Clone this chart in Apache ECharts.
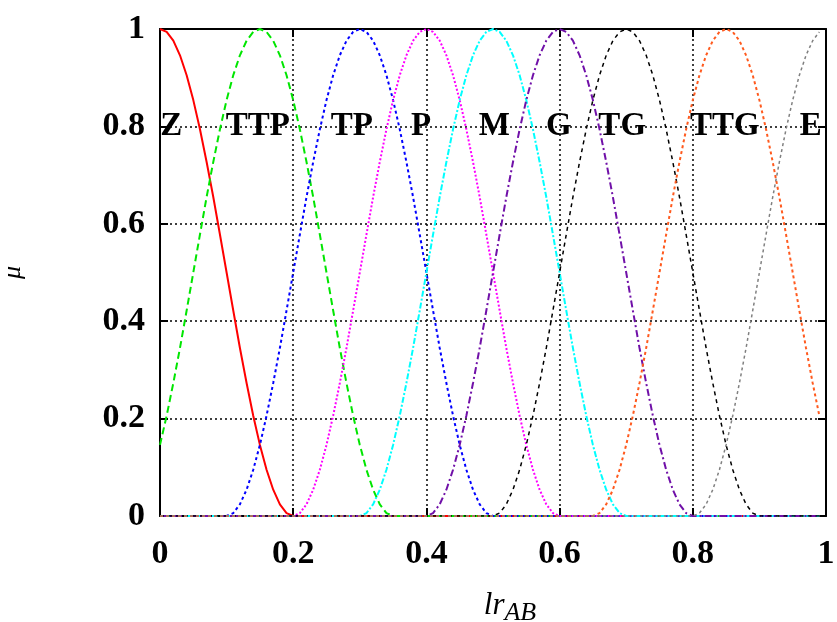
<!DOCTYPE html>
<html>
<head>
<meta charset="utf-8">
<script src="https://cdn.jsdelivr.net/npm/echarts@6/dist/echarts.min.js"></script>
<style>
  html, body { margin: 0; padding: 0; background: #fff; }
  #chart { width: 837px; height: 622px; }
</style>
</head>
<body>
<div id="chart"></div>
<script>
// Membership functions of the linguistic terms over lr_AB, sampled every 0.01.
const step = 0.01;
const lastX = 0.99;

const terms = ['Z', 'TTP', 'TP', 'P', 'M', 'G', 'TG', 'TTG', 'E'];
// x where each sampled segment begins (the curve is 0 outside its segment)
const segmentStart = [0, 0, 0.10, 0.20, 0.30, 0.40, 0.50, 0.65, 0.80];

const muZ   = [1, .994, .976, .946, .905, .854, .794, .727, .655, .578, .5, .422, .345, .273, .206, .146, .095, .054, .024, .006, 0];
const muTTP = [.146, .206, .273, .345, .422, .5, .578, .655, .727, .794, .854, .905, .946, .976, .994, 1, .994, .976, .946, .905, .854, .794, .727, .655, .578, .5, .422, .345, .273, .206, .146, .095, .054, .024, .006, 0];
const muTP  = [0, .006, .024, .054, .095, .146, .206, .273, .345, .422, .5, .578, .655, .727, .794, .854, .905, .946, .976, .994, 1, .994, .976, .946, .905, .854, .794, .727, .655, .578, .5, .422, .345, .273, .206, .146, .095, .054, .024, .006, 0];
const muP   = [0, .006, .024, .054, .095, .146, .206, .273, .345, .422, .5, .578, .655, .727, .794, .854, .905, .946, .976, .994, 1, .994, .976, .946, .905, .854, .794, .727, .655, .578, .5, .422, .345, .273, .206, .146, .095, .054, .024, .006, 0];
const muM   = [0, .006, .024, .054, .095, .146, .206, .273, .345, .422, .5, .578, .655, .727, .794, .854, .905, .946, .976, .994, 1, .994, .976, .946, .905, .854, .794, .727, .655, .578, .5, .422, .345, .273, .206, .146, .095, .054, .024, .006, 0];
const muG   = [0, .006, .024, .054, .095, .146, .206, .273, .345, .422, .5, .578, .655, .727, .794, .854, .905, .946, .976, .994, 1, .994, .976, .946, .905, .854, .794, .727, .655, .578, .5, .422, .345, .273, .206, .146, .095, .054, .024, .006, 0];
const muTG  = [0, .006, .024, .054, .095, .146, .206, .273, .345, .422, .5, .578, .655, .727, .794, .854, .905, .946, .976, .994, 1, .994, .976, .946, .905, .854, .794, .727, .655, .578, .5, .422, .345, .273, .206, .146, .095, .054, .024, .006, 0];
const muTTG = [0, .006, .024, .054, .095, .146, .206, .273, .345, .422, .5, .578, .655, .727, .794, .854, .905, .946, .976, .994, 1, .994, .976, .946, .905, .854, .794, .727, .655, .578, .5, .422, .345, .273, .206];
const muE   = [0, .006, .024, .054, .095, .146, .206, .273, .345, .422, .5, .578, .655, .727, .794, .854, .905, .946, .976, .994];

const memberships = [muZ, muTTP, muTP, muP, muM, muG, muTG, muTTG, muE];

// where each term's name is written, at mu = 0.8
const termLabelX = [0.017, 0.147, 0.288, 0.392, 0.502, 0.599, 0.694, 0.848, 0.977];
const termLabelY = 0.8;

const colors = ['#ff0000', '#00e600', '#0000ff', '#ff00ff', '#00ffff', '#7010a8', '#000000', '#ff5a1e', '#808080'];
const dashes = ['solid', [7, 4], [3, 3], [2, 2], [6, 2, 2, 2], [7, 3, 2, 3], [4, 4], [3, 3], [3, 3]];
const widths = [2, 2, 2, 2, 2, 2, 1.5, 2, 1.5];

const serif = '"Liberation Serif", "Times New Roman", serif';

function curveData(start, values) {
  const pts = [];
  if (start > 0) pts.push([0, 0]);
  values.forEach((v, i) => {
    pts.push([Math.round((start + i * step) * 100) / 100, v]);
  });
  const end = Math.round((start + (values.length - 1) * step) * 100) / 100;
  if (end < lastX) pts.push([lastX, 0]);
  return pts;
}

const lineSeries = terms.map((t, k) => ({
  name: t,
  type: 'line',
  data: curveData(segmentStart[k], memberships[k]),
  showSymbol: false,
  symbol: 'none',
  smooth: false,
  lineStyle: { color: colors[k], width: widths[k], type: dashes[k] },
  z: 3 + k,
  animation: false
}));

const labelSeries = {
  type: 'scatter',
  symbolSize: 1,
  itemStyle: { opacity: 0 },
  data: terms.map((t, k) => [termLabelX[k], termLabelY, t]),
  label: {
    show: true,
    position: 'inside',
    formatter: p => p.value[2],
    color: '#000',
    opacity: 1,
    fontFamily: serif,
    fontWeight: 'bold',
    fontSize: 33
  },
  emphasis: { disabled: true },
  z: 20,
  animation: false
};

const tickLabelStyle = {
  color: '#000',
  fontFamily: serif,
  fontWeight: 'bold',
  fontSize: 34
};

const chart = echarts.init(document.getElementById('chart'), null, { renderer: 'canvas' });
chart.setOption({
  backgroundColor: '#fff',
  animation: false,
  grid: { left: 160, right: 11, top: 29, bottom: 106, containLabel: false, outerBoundsMode: 'none' },
  xAxis: [{
    type: 'value', min: 0, max: 1, interval: 0.2,
    name: '{a|lr}{b|AB}',
    nameLocation: 'middle',
    nameGap: 70,
    nameTextStyle: {
      rich: {
        a: { fontFamily: serif, fontStyle: 'italic', fontSize: 31, color: '#000', lineHeight: 38, padding: [0, 0, 0, 34] },
        b: { fontFamily: serif, fontStyle: 'italic', fontSize: 26, color: '#000', padding: [14, 0, 0, 0] }
      }
    },
    axisLine: { show: true, lineStyle: { color: '#000', width: 2 } },
    axisTick: { show: true, inside: true, length: 8, lineStyle: { color: '#000', width: 2 } },
    axisLabel: Object.assign({ margin: 21, formatter: v => String(Math.round(v * 10) / 10) }, tickLabelStyle),
    splitLine: { show: true, lineStyle: { color: '#000', width: 1.5, type: [2, 3] } }
  }, {
    type: 'value', min: 0, max: 1, interval: 0.2, position: 'top',
    axisLine: { show: true, onZero: false, lineStyle: { color: '#000', width: 2 } },
    axisTick: { show: true, inside: true, length: 8, lineStyle: { color: '#000', width: 2 } },
    axisLabel: { show: false },
    splitLine: { show: false }
  }],
  yAxis: [{
    type: 'value', min: 0, max: 1, interval: 0.2,
    name: 'μ',
    nameLocation: 'middle',
    nameGap: 126,
    nameRotate: 90,
    nameTextStyle: { fontFamily: serif, fontStyle: 'italic', fontSize: 26, color: '#000', padding: [0, 0, 8, 0] },
    axisLine: { show: true, lineStyle: { color: '#000', width: 2 } },
    axisTick: { show: true, inside: true, length: 8, lineStyle: { color: '#000', width: 2 } },
    axisLabel: Object.assign({ margin: 15, formatter: v => String(Math.round(v * 10) / 10) }, tickLabelStyle),
    splitLine: { show: true, lineStyle: { color: '#000', width: 1.5, type: [2, 3] } }
  }, {
    type: 'value', min: 0, max: 1, interval: 0.2, position: 'right',
    axisLine: { show: true, onZero: false, lineStyle: { color: '#000', width: 2 } },
    axisTick: { show: true, inside: true, length: 8, lineStyle: { color: '#000', width: 2 } },
    axisLabel: { show: false },
    splitLine: { show: false }
  }],
  series: lineSeries.concat([labelSeries])
});
</script>
</body>
</html>
